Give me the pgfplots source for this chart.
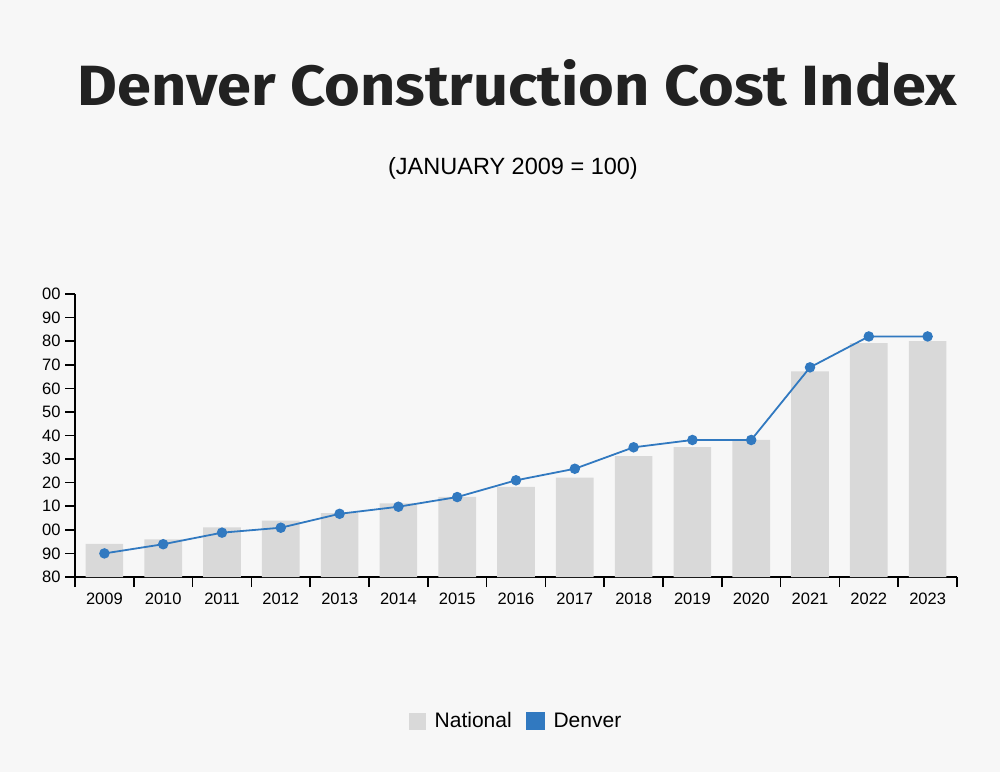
\documentclass[border=0pt]{standalone}
\usepackage{pgfplots}
\pgfplotsset{compat=1.18}
\usepackage{fontspec}
\setmainfont{Liberation Sans}
\newfontfamily\titlefont{Fira Sans}
\definecolor{bg}{HTML}{F7F7F7}
\definecolor{natgray}{HTML}{D9D9D9}
\definecolor{denblue}{HTML}{3179C0}
\definecolor{ink}{HTML}{222222}

\begin{document}
\begin{tikzpicture}[x=1pt,y=1pt]
\fill[bg] (0,0) rectangle (1000,772);
\useasboundingbox (0,0) rectangle (1000,772);
\node[anchor=south,inner sep=0pt,text=ink] at (517,665)
  {\resizebox{879pt}{46pt}{\titlefont\bfseries Denver Construction Cost Index}};
\node at (513,604) {\fontsize{23.5}{28}\selectfont (JANUARY 2009 = 100)};
\begin{axis}[
  at={(75pt,195pt)}, anchor=south west,
  scale only axis, width=882pt, height=283pt,
  xmin=-0.5, xmax=14.5, ymin=80, ymax=200,
  axis x line*=bottom, axis y line*=left,
  axis line style={line width=1.8pt},
  tick align=outside, major tick length=10pt,
  every tick/.style={line width=1.6pt, black},
  xtick={-0.5,0.5,...,14.5},
  x tick label as interval,
  xticklabels={2009,2010,2011,2012,2013,2014,2015,2016,2017,2018,2019,2020,2021,2022,2023},
  xticklabel style={yshift=-2pt},
  ytick={80,90,...,200},
  yticklabels={80,90,00,10,20,30,40,50,60,70,80,90,00},
  yticklabel style={xshift=-1pt},
  ticklabel style={font=\fontsize{16.5}{18}\selectfont},
  /pgf/number format/assume math mode=true,
  legend style={at={(0.5,-0.509)}, anchor=center, draw=none, fill=none,
    font=\fontsize{21}{24}\selectfont, legend columns=2,
    /tikz/every odd column/.append style={column sep=7pt},
    /tikz/every even column/.append style={column sep=12pt}},
]
\addplot[ybar, bar width=0.64, bar shift=0pt, fill=natgray, draw=none,
  legend image code/.code={\fill[natgray] (0pt,-8.5pt) rectangle (17pt,8.5pt);}]
  coordinates {
  (0,94) (1,96) (2,101) (3,103.9) (4,107.1) (5,111.2) (6,114) (7,118.2)
  (8,122.1) (9,131.3) (10,135.1) (11,138.1) (12,167.2) (13,179.2) (14,180)
};
\addlegendentry{National}
\addplot[denblue, line width=1.8pt, mark=*, mark size=4.3pt,
  mark options={fill=denblue, draw=denblue},
  legend image code/.code={\fill[denblue] (0pt,-8.5pt) rectangle (17pt,8.5pt);}]
  coordinates {
  (0,90) (1,93.9) (2,98.8) (3,100.9) (4,106.8) (5,109.8) (6,113.9) (7,121)
  (8,125.9) (9,135) (10,138.1) (11,138.1) (12,168.9) (13,182) (14,182)
};
\addlegendentry{Denver}
\end{axis}
\end{tikzpicture}
\end{document}
